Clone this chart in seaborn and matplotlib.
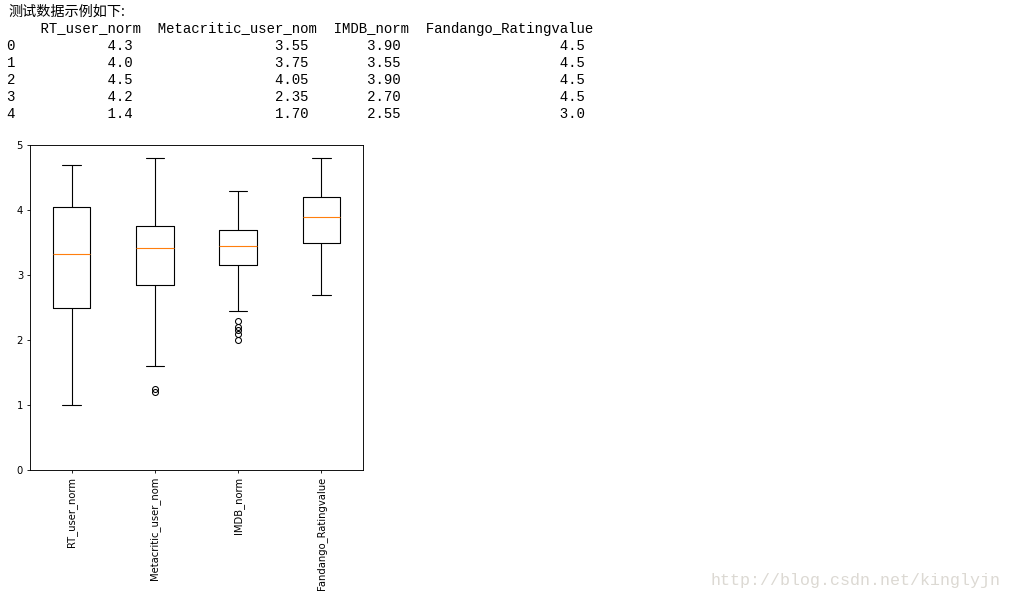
import matplotlib
matplotlib.use("Agg")
import matplotlib.pyplot as plt
import seaborn as sns

# ---- data ----
columns = ["RT_user_norm", "Metacritic_user_nom", "IMDB_norm", "Fandango_Ratingvalue"]
table_index = ["0", "1", "2", "3", "4"]
rt_vals = ["4.3", "4.0", "4.5", "4.2", "1.4"]
meta_vals = ["3.55", "3.75", "4.05", "2.35", "1.70"]
imdb_vals = ["3.90", "3.55", "3.90", "2.70", "2.55"]
fand_vals = ["4.5", "4.5", "4.5", "4.5", "3.0"]

whislo = [1.0, 1.6, 2.45, 2.7]
q1 = [2.5, 2.85, 3.15, 3.5]
med = [3.32, 3.42, 3.45, 3.9]
q3 = [4.05, 3.75, 3.7, 4.2]
whishi = [4.7, 4.8, 4.3, 4.8]
fliers = [[], [1.2, 1.25], [2.0, 2.1, 2.15, 2.2, 2.3], []]
yticks = [0, 1, 2, 3, 4, 5]

sns.set_style("ticks")
plt.rcParams["font.family"] = ["DejaVu Sans"]

fig = plt.figure(figsize=(10.12, 6.02), dpi=100)
W, H = 1012, 602

# ---- text output above the chart ----
fig.text(8 / W, 1 - 11.5 / H, "测试数据示例如下:", family=["Noto Sans CJK SC", "DejaVu Sans"],
         fontsize=10.2, va="center", ha="left", color="black")

header = "    " + "  ".join(columns)
rows = [header]
for i in range(len(table_index)):
    rows.append(table_index[i] + rt_vals[i].rjust(14) + meta_vals[i].rjust(21)
                + imdb_vals[i].rjust(11) + fand_vals[i].rjust(22))
for k, line in enumerate(rows):
    fig.text(7 / W, 1 - (29 + 17 * k) / H, line, family="Liberation Mono",
             fontsize=10.05, va="center", ha="left", color="black")

# ---- boxplot ----
ax = fig.add_axes([30 / W, 1 - 470 / H, 333 / W, 325 / H])
stats = []
for i, c in enumerate(columns):
    stats.append(dict(label=c, whislo=whislo[i], q1=q1[i], med=med[i], q3=q3[i],
                      whishi=whishi[i], fliers=fliers[i]))
lw = 0.8
ax.bxp(stats, widths=0.45,
       boxprops=dict(color="black", linewidth=lw),
       whiskerprops=dict(color="black", linewidth=lw),
       capprops=dict(color="black", linewidth=lw),
       medianprops=dict(color="#ff7f0e", linewidth=lw),
       flierprops=dict(marker="o", markerfacecolor="none", markeredgecolor="black",
                       markersize=4.3, markeredgewidth=0.75))
ax.set_ylim(0, 5)
ax.set_xlim(0.5, 4.5)
ax.set_yticks(yticks)
ax.set_xticklabels(columns, rotation=90)
ax.tick_params(axis="both", labelsize=7.2, length=2.5, width=0.6, pad=2.5, colors="black")
for s in ax.spines.values():
    s.set_visible(True)
    s.set_linewidth(0.65)
    s.set_color("black")
ax.set_facecolor("white")

# ---- watermark ----
fig.text(711 / W, 1 - 581 / H, "http://blog.csdn.net/kinglyjn", family="Liberation Mono",
         fontsize=12, color="#dcd9d3", va="center", ha="left")

fig.savefig("out.png", dpi=100, facecolor="white")
